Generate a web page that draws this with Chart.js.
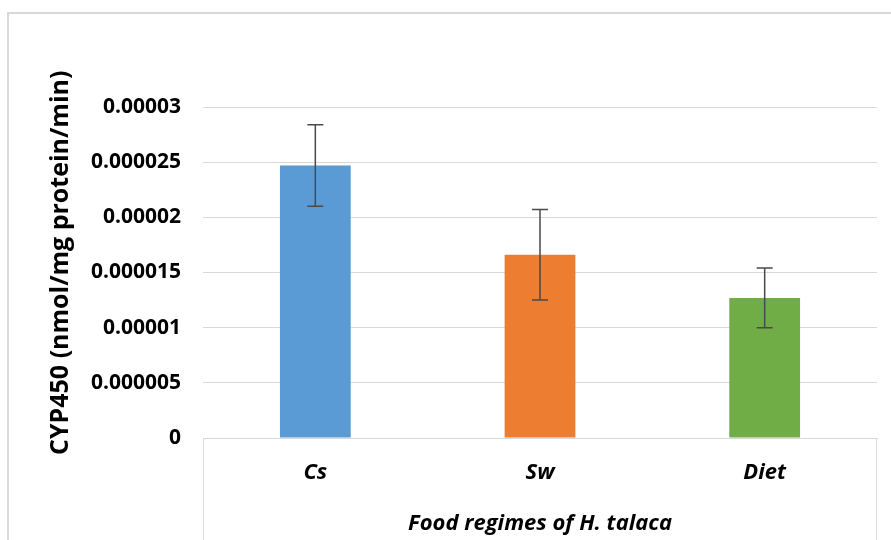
<!DOCTYPE html>
<html>
<head>
<meta charset="utf-8">
<script src="https://cdn.jsdelivr.net/npm/chart.js@4"></script>
<style>
  html, body { margin: 0; padding: 0; background: #fff; }
  #wrap { position: relative; width: 891px; height: 540px; overflow: hidden; }
  #frame { position: absolute; left: 7px; top: 12px; width: 1000px; height: 1000px;
           border: 2px solid #d9d9d9; box-sizing: border-box; pointer-events: none; }
  canvas { position: absolute; left: 0; top: 0; }
</style>
</head>
<body>
<div id="wrap">
  <div id="frame"></div>
  <canvas id="c" width="891" height="540"></canvas>
</div>
<script>
// Food regimes and mean CYP450 activity with standard error
const categories = ['Cs', 'Sw', 'Diet'];
const cyp450 = [0.0000247, 0.0000166, 0.0000127];
const cyp450Err = [0.0000037, 0.0000041, 0.0000027];
const barColors = ['#5b9bd5', '#ed7d31', '#70ad47'];
const yTickLabels = ['0', '0.000005', '0.00001', '0.000015', '0.00002', '0.000025', '0.00003'];

const FONT = '"Open Sans", "Liberation Sans", sans-serif';

// Error bars drawn on top of each bar from the dataset's error values
const errorBars = {
  id: 'errorBars',
  afterDatasetsDraw(chart) {
    const { ctx } = chart;
    const meta = chart.getDatasetMeta(0);
    const y = chart.scales.y;
    ctx.save();
    ctx.strokeStyle = '#4a4a4a';
    ctx.lineWidth = 1.5;
    meta.data.forEach((bar, i) => {
      const hi = y.getPixelForValue(cyp450[i] + cyp450Err[i]);
      const lo = y.getPixelForValue(cyp450[i] - cyp450Err[i]);
      const x = bar.x;
      ctx.beginPath();
      ctx.moveTo(x, hi); ctx.lineTo(x, lo);
      ctx.moveTo(x - 8, hi); ctx.lineTo(x + 8, hi);
      ctx.moveTo(x - 8, lo); ctx.lineTo(x + 8, lo);
      ctx.stroke();
    });
    ctx.restore();
  }
};

// Box lines framing the category axis
const categoryBox = {
  id: 'categoryBox',
  afterDraw(chart) {
    const { ctx, chartArea } = chart;
    ctx.save();
    ctx.strokeStyle = '#d9d9d9';
    ctx.lineWidth = 1;
    ctx.beginPath();
    ctx.moveTo(Math.round(chartArea.left) + 0.5, chartArea.bottom);
    ctx.lineTo(Math.round(chartArea.left) + 0.5, chart.height);
    ctx.moveTo(Math.round(chartArea.right) - 0.5, chartArea.bottom);
    ctx.lineTo(Math.round(chartArea.right) - 0.5, chart.height);
    ctx.stroke();
    ctx.restore();
  }
};

new Chart(document.getElementById('c'), {
  type: 'bar',
  data: {
    labels: categories,
    datasets: [{
      data: cyp450,
      backgroundColor: barColors,
      borderWidth: 0,
      categoryPercentage: 1,
      barPercentage: 0.315
    }]
  },
  options: {
    responsive: false,
    animation: false,
    devicePixelRatio: 1,
    layout: { padding: { top: 107, left: 8, right: 14, bottom: 0 } },
    plugins: { legend: { display: false }, tooltip: { enabled: false } },
    scales: {
      x: {
        grid: { display: false },
        border: { display: true, color: '#d9d9d9' },
        ticks: {
          color: '#000',
          padding: 14,
          font: { family: FONT, size: 22, weight: 'bold', style: 'italic' }
        },
        title: {
          display: true,
          text: 'Food regimes of H. talaca',
          color: '#000',
          padding: { top: 0, bottom: 3 },
          font: { family: FONT, size: 22, weight: 'bold', style: 'italic' }
        },
        afterFit(scale) { scale.height = 102; }
      },
      y: {
        min: 0,
        max: 0.00003,
        border: { display: false },
        grid: { color: '#d9d9d9', lineWidth: 1, drawTicks: false },
        ticks: {
          stepSize: 0.000005,
          color: '#000',
          padding: 22,
          font: { family: FONT, size: 21, weight: 'bold' },
          callback: (v, i) => yTickLabels[i]
        },
        title: {
          display: true,
          text: '   CYP450 (nmol/mg protein/min)',
          color: '#000',
          padding: { top: 38, bottom: 0 },
          font: { family: FONT, size: 25, weight: 'bold' }
        },
        afterFit(scale) { scale.width = 195; }
      }
    }
  },
  plugins: [errorBars, categoryBox]
});
</script>
</body>
</html>
